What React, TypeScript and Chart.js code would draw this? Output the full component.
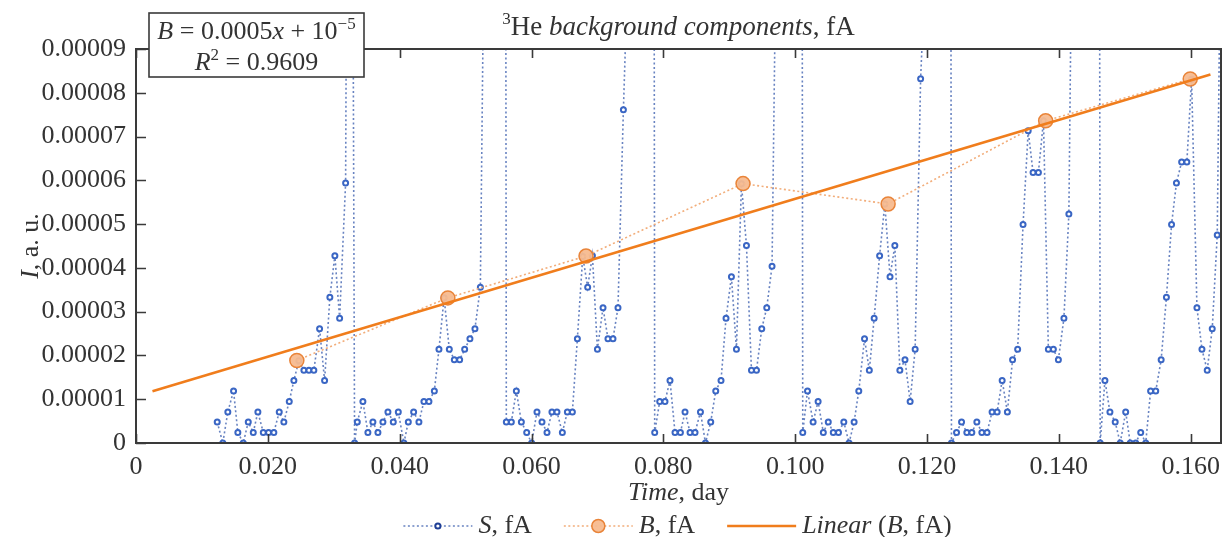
import React, { useEffect, useRef } from 'react';
import { Chart, registerables } from 'chart.js';

Chart.register(...registerables);

// ---------- data ----------
// S, fA : time (day) and signal (a.u.)
const timeS: number[] = [
  0.01232, 0.01317, 0.01393, 0.0148, 0.01545, 0.01627, 0.01703, 0.01779, 0.01849, 0.01931,
  0.02011, 0.02091, 0.02173, 0.02243, 0.02325, 0.02395, 0.02471, 0.02547, 0.02623, 0.02698,
  0.02785, 0.02861, 0.02941, 0.03017, 0.03089, 0.0318, 0.03248, 0.03316, 0.03357, 0.03442,
  0.03518, 0.03594, 0.0367, 0.03746, 0.03822, 0.03903, 0.03979, 0.04064, 0.04131, 0.04212,
  0.04292, 0.04368, 0.04444, 0.04526, 0.04596, 0.04674, 0.04753, 0.04829, 0.0491, 0.04986,
  0.05066, 0.05142, 0.05224, 0.05304, 0.0538, 0.05461, 0.0554, 0.05618, 0.05694, 0.0577,
  0.05846, 0.05927, 0.06002, 0.06083, 0.06159, 0.06235, 0.0631, 0.06386, 0.06468, 0.06544,
  0.0662, 0.06696, 0.06777, 0.06852, 0.06924, 0.07, 0.07085, 0.0716, 0.07236, 0.07312,
  0.07394, 0.07475, 0.07554, 0.07632, 0.07711, 0.0779, 0.07869, 0.07945, 0.08025, 0.08101,
  0.08177, 0.08259, 0.08329, 0.08405, 0.08481, 0.08563, 0.08639, 0.08719, 0.08795, 0.08875,
  0.08951, 0.09033, 0.09109, 0.09185, 0.09261, 0.09337, 0.09413, 0.09493, 0.09569, 0.09649,
  0.09727, 0.09804, 0.09882, 0.09959, 0.10036, 0.10115, 0.10187, 0.10272, 0.10348, 0.10427,
  0.10502, 0.10578, 0.10657, 0.10738, 0.10817, 0.10894, 0.10965, 0.11052, 0.11125, 0.11198,
  0.11281, 0.1136, 0.11439, 0.11512, 0.11588, 0.11666, 0.11744, 0.1182, 0.11903, 0.11982,
  0.12061, 0.12138, 0.12216, 0.12293, 0.12371, 0.12448, 0.12524, 0.12604, 0.1268, 0.12756,
  0.12832, 0.12911, 0.12987, 0.13064, 0.1314, 0.13219, 0.13298, 0.13375, 0.13457, 0.13535,
  0.13609, 0.1369, 0.13767, 0.13841, 0.13917, 0.13993, 0.14077, 0.14152, 0.14231, 0.1431,
  0.14389, 0.14468, 0.14547, 0.14627, 0.14699, 0.14775, 0.14855, 0.14931, 0.15014, 0.15083,
  0.15166, 0.15242, 0.15318, 0.15392, 0.1547, 0.15552, 0.15632, 0.1571, 0.15784, 0.15863,
  0.15942, 0.16014, 0.16095, 0.16171, 0.16251, 0.16327, 0.16403, 0.16481,
];
const valueS: number[] = [
  0.48e-5, 0, 0.71e-5, 1.19e-5, 0.24e-5, 0, 0.48e-5, 0.24e-5, 0.71e-5, 0.24e-5,
  0.24e-5, 0.24e-5, 0.71e-5, 0.48e-5, 0.95e-5, 1.43e-5, 1.88e-5, 1.66e-5, 1.66e-5, 1.66e-5,
  2.61e-5, 1.43e-5, 3.33e-5, 4.28e-5, 2.85e-5, 5.94e-5, 30e-5, 0, 0.48e-5, 0.95e-5,
  0.24e-5, 0.48e-5, 0.24e-5, 0.48e-5, 0.71e-5, 0.48e-5, 0.71e-5, 0, 0.48e-5, 0.71e-5,
  0.48e-5, 0.95e-5, 0.95e-5, 1.19e-5, 2.14e-5, 3.32e-5, 2.14e-5, 1.9e-5, 1.9e-5, 2.14e-5,
  2.38e-5, 2.61e-5, 3.56e-5, 15e-5, 30e-5, 30e-5, 100e-5, 0.48e-5, 0.48e-5, 1.19e-5,
  0.48e-5, 0.24e-5, 0, 0.71e-5, 0.48e-5, 0.24e-5, 0.71e-5, 0.71e-5, 0.24e-5, 0.71e-5,
  0.71e-5, 2.38e-5, 4.26e-5, 3.56e-5, 4.28e-5, 2.14e-5, 3.09e-5, 2.38e-5, 2.38e-5, 3.09e-5,
  7.61e-5, 11.5e-5, 30e-5, 30e-5, 30e-5, 100e-5, 0.24e-5, 0.95e-5, 0.95e-5, 1.43e-5,
  0.24e-5, 0.24e-5, 0.71e-5, 0.24e-5, 0.24e-5, 0.71e-5, 0, 0.48e-5, 1.19e-5, 1.43e-5,
  2.85e-5, 3.8e-5, 2.14e-5, 5.92e-5, 4.51e-5, 1.66e-5, 1.66e-5, 2.61e-5, 3.09e-5, 4.04e-5,
  13.5e-5, 30e-5, 30e-5, 30e-5, 100e-5, 0.24e-5, 1.19e-5, 0.48e-5, 0.95e-5, 0.24e-5,
  0.48e-5, 0.24e-5, 0.24e-5, 0.48e-5, 0, 0.48e-5, 1.19e-5, 2.38e-5, 1.66e-5, 2.85e-5,
  4.28e-5, 5.46e-5, 3.8e-5, 4.51e-5, 1.66e-5, 1.9e-5, 0.95e-5, 2.14e-5, 8.32e-5, 11.1e-5,
  30e-5, 30e-5, 30e-5, 100e-5, 0, 0.24e-5, 0.48e-5, 0.24e-5, 0.24e-5, 0.48e-5,
  0.24e-5, 0.24e-5, 0.71e-5, 0.71e-5, 1.43e-5, 0.71e-5, 1.9e-5, 2.14e-5, 4.99e-5, 7.13e-5,
  6.18e-5, 6.18e-5, 7.36e-5, 2.14e-5, 2.14e-5, 1.9e-5, 2.85e-5, 5.23e-5, 16.5e-5, 30e-5,
  30e-5, 30e-5, 100e-5, 0, 1.43e-5, 0.71e-5, 0.48e-5, 0, 0.71e-5, 0,
  0, 0.24e-5, 0, 1.19e-5, 1.19e-5, 1.9e-5, 3.33e-5, 4.99e-5, 5.94e-5, 6.42e-5,
  6.42e-5, 8.31e-5, 3.09e-5, 2.14e-5, 1.66e-5, 2.61e-5, 4.75e-5, 15.5e-5,
];

// B, fA : background points
const timeB: number[] = [0.0244, 0.04731, 0.06827, 0.09209, 0.1141, 0.138, 0.15993];
const valueB: number[] = [1.885e-5, 3.315e-5, 4.27e-5, 5.925e-5, 5.46e-5, 7.36e-5, 8.315e-5];

// trendline span (day)
const trendSpan: number[] = [0.0025, 0.163];

// axes
const xTicks: number[] = [0, 0.02, 0.04, 0.06, 0.08, 0.1, 0.12, 0.14, 0.16];
const xTickLabels: string[] = ['0', '0.020', '0.040', '0.060', '0.080', '0.100', '0.120', '0.140', '0.160'];
const yTicks: number[] = [0, 1e-5, 2e-5, 3e-5, 4e-5, 5e-5, 6e-5, 7e-5, 8e-5, 9e-5];
const yTickLabels: string[] = ['0', '0.00001', '0.00002', '0.00003', '0.00004', '0.00005', '0.00006', '0.00007', '0.00008', '0.00009'];
const X_MIN = 0;
const X_MAX = 0.1646;
const Y_MIN = 0;
const Y_MAX = 0.00009;

const equationText = '0.0005';
const r2Text = '0.9609';

// ---------- styles ----------
const SERIF = '"Liberation Serif", "Times New Roman", serif';
const TEXT = '#333333';
const FRAME = '#3a3a3a';
const BLUE_LINE = 'rgba(88,118,186,0.9)';
const BLUE_MARK = '#3a66c4';
const ORANGE_DOT = '#f2ad7a';
const ORANGE_FILL = 'rgba(247,187,143,0.95)';
const ORANGE_EDGE = '#e98439';
const ORANGE = '#f07d1c';

type Part = { t: string; i?: boolean; sup?: boolean };

function fontOf(p: Part, size: number) {
  const s = p.sup ? Math.round(size * 0.64) : size;
  return `${p.i ? 'italic ' : ''}${s}px ${SERIF}`;
}

function richWidth(ctx: CanvasRenderingContext2D, parts: Part[], size: number) {
  let w = 0;
  for (const p of parts) {
    ctx.font = fontOf(p, size);
    w += ctx.measureText(p.t).width;
  }
  return w;
}

function drawRich(
  ctx: CanvasRenderingContext2D,
  parts: Part[],
  x: number,
  y: number,
  size: number,
  align: 'left' | 'center' | 'right',
  color = TEXT
) {
  const w = richWidth(ctx, parts, size);
  let cx = align === 'center' ? x - w / 2 : align === 'right' ? x - w : x;
  ctx.save();
  ctx.fillStyle = color;
  ctx.textBaseline = 'alphabetic';
  ctx.textAlign = 'left';
  for (const p of parts) {
    ctx.font = fontOf(p, size);
    ctx.fillText(p.t, cx, p.sup ? y - size * 0.4 : y);
    cx += ctx.measureText(p.t).width;
  }
  ctx.restore();
  return w;
}

const decorPlugin = {
  id: 'decor',
  afterDraw(chart: any) {
    const ctx: CanvasRenderingContext2D = chart.ctx;
    const { left, right, top, bottom } = chart.chartArea;
    const xs = chart.scales.x;
    const ys = chart.scales.y;

    // frame
    ctx.save();
    ctx.strokeStyle = FRAME;
    ctx.lineWidth = 2;
    ctx.strokeRect(left, top, right - left, bottom - top);

    // inward ticks
    ctx.lineWidth = 1.6;
    ctx.beginPath();
    for (const v of xTicks) {
      const px = Math.round(xs.getPixelForValue(v)) + 0.5;
      ctx.moveTo(px, bottom);
      ctx.lineTo(px, bottom - 9);
      ctx.moveTo(px, top);
      ctx.lineTo(px, top + 9);
    }
    for (const v of yTicks) {
      const py = Math.round(ys.getPixelForValue(v)) + 0.5;
      ctx.moveTo(left, py);
      ctx.lineTo(left + 10, py);
    }
    ctx.stroke();
    ctx.restore();

    const cxPlot = (left + right) / 2;
    const cyPlot = (top + bottom) / 2;

    // title
    drawRich(ctx, [{ t: '3', sup: true }, { t: 'He ' }, { t: 'background components', i: true }, { t: ', fA' }], cxPlot, 35, 27, 'center');

    // axis titles
    drawRich(ctx, [{ t: 'Time', i: true }, { t: ', day' }], cxPlot, 500, 26, 'center');
    ctx.save();
    ctx.translate(38, cyPlot);
    ctx.rotate(-Math.PI / 2);
    drawRich(ctx, [{ t: 'I', i: true }, { t: ', a. u.' }], 0, 0, 26, 'center');
    ctx.restore();

    // legend
    const ly = 526;
    const lineLen = 69;
    const gapText = 6;
    const gapItem = 32;
    const items = [
      { parts: [{ t: 'S', i: true }, { t: ', fA' }] as Part[], kind: 'S' },
      { parts: [{ t: 'B', i: true }, { t: ', fA' }] as Part[], kind: 'B' },
      { parts: [{ t: 'Linear', i: true }, { t: ' (' }, { t: 'B', i: true }, { t: ', fA)' }] as Part[], kind: 'L' },
    ];
    let total = 0;
    const widths = items.map((it) => richWidth(ctx, it.parts, 26));
    widths.forEach((w, i) => {
      total += lineLen + gapText + w + (i < items.length - 1 ? gapItem : 0);
    });
    let lx = cxPlot - 1 - total / 2;
    items.forEach((it, i) => {
      ctx.save();
      if (it.kind === 'S') {
        ctx.strokeStyle = BLUE_LINE;
        ctx.lineWidth = 1.6;
        ctx.setLineDash([2, 2.5]);
        ctx.beginPath();
        ctx.moveTo(lx, ly);
        ctx.lineTo(lx + lineLen, ly);
        ctx.stroke();
        ctx.setLineDash([]);
        ctx.fillStyle = '#fff';
        ctx.strokeStyle = '#1f3f96';
        ctx.lineWidth = 2;
        ctx.beginPath();
        ctx.arc(lx + lineLen / 2, ly, 2.6, 0, Math.PI * 2);
        ctx.fill();
        ctx.stroke();
      } else if (it.kind === 'B') {
        ctx.strokeStyle = ORANGE_DOT;
        ctx.lineWidth = 1.6;
        ctx.setLineDash([2, 2.5]);
        ctx.beginPath();
        ctx.moveTo(lx, ly);
        ctx.lineTo(lx + lineLen, ly);
        ctx.stroke();
        ctx.setLineDash([]);
        ctx.fillStyle = ORANGE_FILL;
        ctx.strokeStyle = ORANGE_EDGE;
        ctx.lineWidth = 1.5;
        ctx.beginPath();
        ctx.arc(lx + lineLen / 2, ly, 6.5, 0, Math.PI * 2);
        ctx.fill();
        ctx.stroke();
      } else {
        ctx.strokeStyle = ORANGE;
        ctx.lineWidth = 2.6;
        ctx.beginPath();
        ctx.moveTo(lx, ly);
        ctx.lineTo(lx + lineLen, ly);
        ctx.stroke();
      }
      ctx.restore();
      drawRich(ctx, it.parts, lx + lineLen + gapText, 533, 26, 'left');
      lx += lineLen + gapText + widths[i] + gapItem;
    });

    // equation box
    const bx = 149;
    const by = 13;
    const bw = 215;
    const bh = 64;
    ctx.save();
    ctx.fillStyle = '#ffffff';
    ctx.fillRect(bx, by, bw, bh);
    ctx.strokeStyle = FRAME;
    ctx.lineWidth = 1.6;
    ctx.strokeRect(bx, by, bw, bh);
    ctx.restore();
    const bcx = bx + bw / 2;
    drawRich(
      ctx,
      [{ t: 'B', i: true }, { t: ' = ' + equationText }, { t: 'x', i: true }, { t: ' + 10' }, { t: '\u22125', sup: true }],
      bcx,
      39,
      26,
      'center'
    );
    drawRich(ctx, [{ t: 'R', i: true }, { t: '2', sup: true }, { t: ' = ' + r2Text }], bcx, 70, 26, 'center');
  },
};

export default function App() {
  const ref = useRef<HTMLCanvasElement>(null);

  useEffect(() => {
    const canvas = ref.current;
    if (!canvas) return;

    // least-squares linear trend of B
    const n = timeB.length;
    const mx = timeB.reduce((a, b) => a + b, 0) / n;
    const my = valueB.reduce((a, b) => a + b, 0) / n;
    let sxy = 0;
    let sxx = 0;
    for (let i = 0; i < n; i++) {
      sxy += (timeB[i] - mx) * (valueB[i] - my);
      sxx += (timeB[i] - mx) * (timeB[i] - mx);
    }
    const slope = sxy / sxx;
    const icpt = my - slope * mx;
    const trend = trendSpan.map((t) => ({ x: t, y: icpt + slope * t }));

    const tickFont = { family: SERIF, size: 26 };

    const chart = new Chart(canvas, {
      type: 'line',
      data: {
        datasets: [
          {
            label: 'Linear (B, fA)',
            data: trend,
            borderColor: ORANGE,
            borderWidth: 2.6,
            pointRadius: 0,
            order: 0,
          },
          {
            label: 'B, fA',
            data: timeB.map((t, i) => ({ x: t, y: valueB[i] })),
            borderColor: ORANGE_DOT,
            borderWidth: 1.6,
            borderDash: [2, 2.5],
            pointRadius: 7,
            pointBackgroundColor: ORANGE_FILL,
            pointBorderColor: ORANGE_EDGE,
            pointBorderWidth: 1.5,
            order: 1,
          },
          {
            label: 'S, fA',
            data: timeS.map((t, i) => ({ x: t, y: valueS[i] })),
            borderColor: BLUE_LINE,
            borderWidth: 1.6,
            borderDash: [2, 2.5],
            pointRadius: 2.5,
            pointBackgroundColor: '#ffffff',
            pointBorderColor: BLUE_MARK,
            pointBorderWidth: 2,
            order: 2,
          },
        ] as any,
      },
      options: {
        responsive: false,
        animation: false,
        devicePixelRatio: 1,
        layout: { autoPadding: false, padding: { left: 0, top: 49, right: 2, bottom: 0 } },
        plugins: {
          legend: { display: false },
          title: { display: false },
          tooltip: { enabled: false },
        },
        scales: {
          x: {
            type: 'linear',
            min: X_MIN,
            max: X_MAX,
            afterBuildTicks: (s: any) => {
              s.ticks = xTicks.map((v) => ({ value: v }));
            },
            afterFit: (s: any) => {
              s.height = 94;
              s.paddingLeft = 0;
              s.paddingRight = 0;
            },
            grid: { display: false, drawTicks: false },
            border: { display: false },
            ticks: {
              padding: 9,
              font: tickFont,
              color: TEXT,
              maxRotation: 0,
              autoSkip: false,
              callback: (_v: any, i: number) => xTickLabels[i],
            },
          },
          y: {
            type: 'linear',
            min: Y_MIN,
            max: Y_MAX,
            afterBuildTicks: (s: any) => {
              s.ticks = yTicks.map((v) => ({ value: v }));
            },
            afterFit: (s: any) => {
              s.width = 136;
              s.paddingTop = 0;
              s.paddingBottom = 0;
            },
            grid: { display: false, drawTicks: false },
            border: { display: false },
            ticks: {
              padding: 10,
              font: tickFont,
              color: TEXT,
              autoSkip: false,
              callback: (_v: any, i: number) => yTickLabels[i],
            },
          },
        },
      } as any,
      plugins: [decorPlugin],
    });

    return () => chart.destroy();
  }, []);

  return (
    <div style={{ position: 'fixed', left: 0, top: 0, width: 1223, height: 537, background: '#fff' }}>
      <canvas ref={ref} width={1223} height={537} style={{ width: 1223, height: 537, display: 'block' }} />
    </div>
  );
}
